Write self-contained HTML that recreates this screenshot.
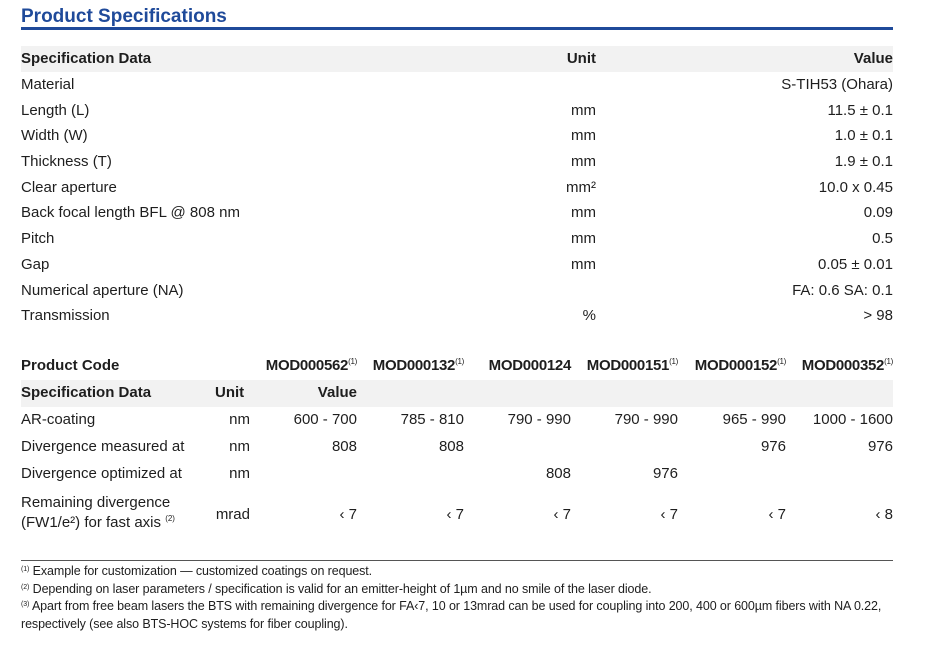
<!DOCTYPE html>
<html><head><meta charset="utf-8"><style>
body{margin:0;width:928px;height:645px;background:#fff;position:relative;font-family:"Liberation Sans",sans-serif;color:#1e1e1e;overflow:hidden}
.t{position:absolute;font-size:15px;line-height:18px;white-space:nowrap}
.r{text-align:right}
.b{font-weight:bold}
.c{text-align:center}
sup{font-size:8px;vertical-align:6px;font-weight:normal;line-height:0}
.f{position:absolute;left:21px;font-size:12.5px;line-height:14px;white-space:nowrap;letter-spacing:-0.1px}
.f sup{font-size:7px;vertical-align:4px}
</style></head><body>
<div class="t b" style="left:21px;top:6px;font-size:19px;line-height:22px;color:#1f4a9a">Product Specifications</div>
<div style="position:absolute;left:21px;top:27px;width:872px;height:3px;background:#1f4a9a"></div>
<div style="position:absolute;left:21px;top:46px;width:872px;height:26px;background:#f2f2f2"></div>
<div class="t b" style="left:21px;top:50px">Specification Data</div>
<div class="t b r" style="left:496px;width:100px;top:50px">Unit</div>
<div class="t b r" style="left:693px;width:200px;top:50px">Value</div>

<div class="t" style="left:21px;top:76px">Material</div><div class="t r" style="left:593px;width:300px;top:76px">S-TIH53 (Ohara)</div>
<div class="t" style="left:21px;top:102px">Length (L)</div><div class="t r" style="left:496px;width:100px;top:102px">mm</div><div class="t r" style="left:693px;width:200px;top:102px">11.5 ± 0.1</div>
<div class="t" style="left:21px;top:127px">Width (W)</div><div class="t r" style="left:496px;width:100px;top:127px">mm</div><div class="t r" style="left:693px;width:200px;top:127px">1.0 ± 0.1</div>
<div class="t" style="left:21px;top:153px">Thickness (T)</div><div class="t r" style="left:496px;width:100px;top:153px">mm</div><div class="t r" style="left:693px;width:200px;top:153px">1.9 ± 0.1</div>
<div class="t" style="left:21px;top:179px">Clear aperture</div><div class="t r" style="left:496px;width:100px;top:179px">mm²</div><div class="t r" style="left:693px;width:200px;top:179px">10.0 x 0.45</div>
<div class="t" style="left:21px;top:204px">Back focal length BFL @ 808 nm</div><div class="t r" style="left:496px;width:100px;top:204px">mm</div><div class="t r" style="left:693px;width:200px;top:204px">0.09</div>
<div class="t" style="left:21px;top:230px">Pitch</div><div class="t r" style="left:496px;width:100px;top:230px">mm</div><div class="t r" style="left:693px;width:200px;top:230px">0.5</div>
<div class="t" style="left:21px;top:256px">Gap</div><div class="t r" style="left:496px;width:100px;top:256px">mm</div><div class="t r" style="left:693px;width:200px;top:256px">0.05 ± 0.01</div>
<div class="t" style="left:21px;top:282px">Numerical aperture (NA)</div><div class="t r" style="left:693px;width:200px;top:282px">FA: 0.6 SA: 0.1</div>
<div class="t" style="left:21px;top:307px">Transmission</div><div class="t r" style="left:496px;width:100px;top:307px">%</div><div class="t r" style="left:693px;width:200px;top:307px">&gt; 98</div>

<div class="t b" style="left:21px;top:357px">Product Code</div>
<div class="t b r" style="left:237px;width:120px;top:357px;letter-spacing:-0.3px">MOD000562<sup>(1)</sup></div>
<div class="t b r" style="left:344px;width:120px;top:357px;letter-spacing:-0.3px">MOD000132<sup>(1)</sup></div>
<div class="t b r" style="left:451px;width:120px;top:357px;letter-spacing:-0.3px">MOD000124</div>
<div class="t b r" style="left:558px;width:120px;top:357px;letter-spacing:-0.3px">MOD000151<sup>(1)</sup></div>
<div class="t b r" style="left:666px;width:120px;top:357px;letter-spacing:-0.3px">MOD000152<sup>(1)</sup></div>
<div class="t b r" style="left:773px;width:120px;top:357px;letter-spacing:-0.3px">MOD000352<sup>(1)</sup></div>

<div style="position:absolute;left:21px;top:380px;width:872px;height:27px;background:#f2f2f2"></div>
<div class="t b" style="left:21px;top:384px">Specification Data</div>
<div class="t b" style="left:215px;top:384px">Unit</div>
<div class="t b r" style="left:257px;width:100px;top:384px">Value</div>

<div class="t" style="left:21px;top:411px">AR-coating</div><div class="t r" style="left:200px;width:50px;top:411px">nm</div>
<div class="t r" style="left:257px;width:100px;top:411px">600 - 700</div><div class="t r" style="left:364px;width:100px;top:411px">785 - 810</div><div class="t r" style="left:471px;width:100px;top:411px">790 - 990</div><div class="t r" style="left:578px;width:100px;top:411px">790 - 990</div><div class="t r" style="left:686px;width:100px;top:411px">965 - 990</div><div class="t r" style="left:793px;width:100px;top:411px">1000 - 1600</div>
<div class="t" style="left:21px;top:438px">Divergence measured at</div><div class="t r" style="left:200px;width:50px;top:438px">nm</div>
<div class="t r" style="left:257px;width:100px;top:438px">808</div><div class="t r" style="left:364px;width:100px;top:438px">808</div><div class="t r" style="left:686px;width:100px;top:438px">976</div><div class="t r" style="left:793px;width:100px;top:438px">976</div>
<div class="t" style="left:21px;top:465px">Divergence optimized at</div><div class="t r" style="left:200px;width:50px;top:465px">nm</div>
<div class="t r" style="left:471px;width:100px;top:465px">808</div><div class="t r" style="left:578px;width:100px;top:465px">976</div>
<div class="t" style="left:21px;top:494px">Remaining divergence</div>
<div class="t" style="left:21px;top:514px">(FW1/e²) for fast axis <sup>(2)</sup></div>
<div class="t r" style="left:200px;width:50px;top:506px">mrad</div>
<div class="t r" style="left:257px;width:100px;top:506px">‹ 7</div><div class="t r" style="left:364px;width:100px;top:506px">‹ 7</div><div class="t r" style="left:471px;width:100px;top:506px">‹ 7</div><div class="t r" style="left:578px;width:100px;top:506px">‹ 7</div><div class="t r" style="left:686px;width:100px;top:506px">‹ 7</div><div class="t r" style="left:793px;width:100px;top:506px">‹ 8</div>

<div style="position:absolute;left:21px;top:560px;width:872px;height:1px;background:#555"></div>
<div class="f" style="top:564px"><sup>(1)</sup> Example for customization — customized coatings on request.</div>
<div class="f" style="top:582px"><sup>(2)</sup> Depending on laser parameters / specification is valid for an emitter-height of 1µm and no smile of the laser diode.</div>
<div class="f" style="top:599px"><sup>(3)</sup> Apart from free beam lasers the BTS with remaining divergence for FA‹7, 10 or 13mrad can be used for coupling into 200, 400 or 600µm fibers with NA 0.22,</div>
<div class="f" style="top:617px">respectively (see also BTS-HOC systems for fiber coupling).</div>
</body></html>
